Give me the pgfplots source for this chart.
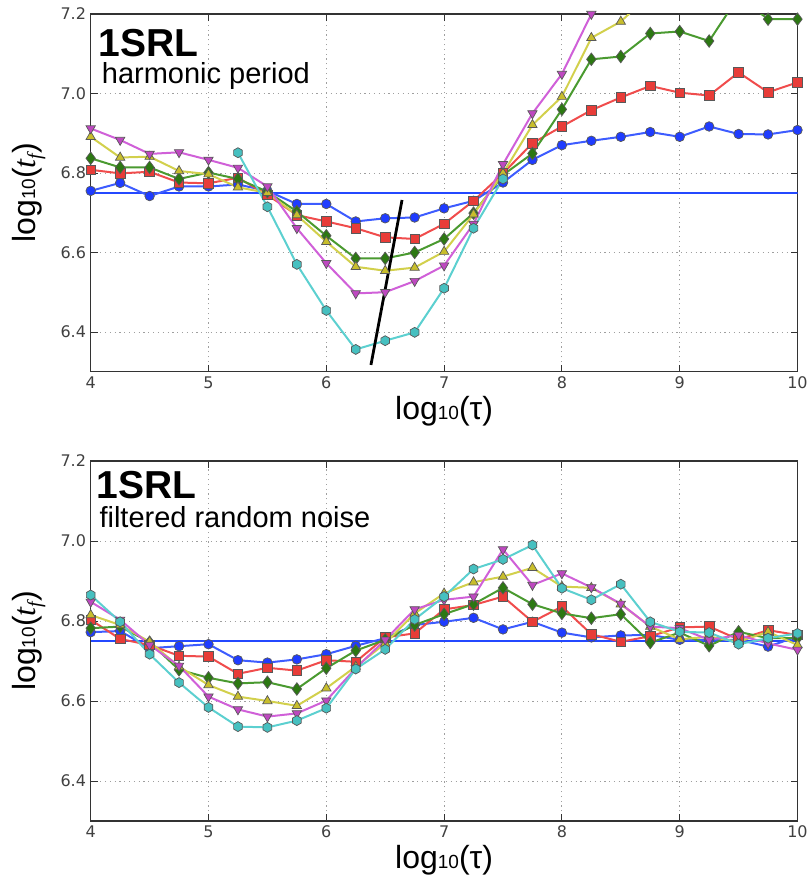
\documentclass[border=0pt]{standalone}
\usepackage{fontspec}
\setmainfont{Liberation Sans}
\newfontfamily\tickfont{DejaVu Sans}
\newfontfamily\serif{Liberation Serif}
\usepackage{pgfplots}
\pgfplotsset{compat=1.18}

% line colours (lighter) and marker fills
\definecolor{lblue}{HTML}{3D5CFF}
\definecolor{mblue}{HTML}{1F3CFF}
\definecolor{lred}{HTML}{F04C4C}
\definecolor{mred}{HTML}{E83C38}
\definecolor{lgreen}{HTML}{4A9A30}
\definecolor{mgreen}{HTML}{2C7812}
\definecolor{lyellow}{HTML}{D2D04C}
\definecolor{myellow}{HTML}{C8BE2C}
\definecolor{lmag}{HTML}{D060D8}
\definecolor{mmag}{HTML}{BE48C0}
\definecolor{lcyan}{HTML}{5CD0D0}
\definecolor{mcyan}{HTML}{46C0C0}
\definecolor{hline}{HTML}{2448FF}

\pgfdeclareplotmark{hex*}{%
  \pgfpathmoveto{\pgfqpointpolar{90}{\pgfplotmarksize}}%
  \pgfpathlineto{\pgfqpointpolar{150}{\pgfplotmarksize}}%
  \pgfpathlineto{\pgfqpointpolar{210}{\pgfplotmarksize}}%
  \pgfpathlineto{\pgfqpointpolar{270}{\pgfplotmarksize}}%
  \pgfpathlineto{\pgfqpointpolar{330}{\pgfplotmarksize}}%
  \pgfpathlineto{\pgfqpointpolar{30}{\pgfplotmarksize}}%
  \pgfpathclose
  \pgfusepathqfillstroke}

\newcommand\mylogten{log{\fontsize{19}{19}\selectfont 10}}

\pgfplotsset{
  panel/.style={
    scale only axis, width=706.8pt,
    xmin=4, xmax=10, ymin=6.3, ymax=7.2,
    xtick={4,5,...,10}, ytick={6.4,6.6,6.8,7.0,7.2},
    y tick label style={/pgf/number format/fixed, /pgf/number format/fixed zerofill, /pgf/number format/precision=1},
    /pgf/number format/assume math mode=true,
    grid=major,
    grid style={line width=0.9pt, gray!75, dash pattern=on 1.2pt off 3.6pt},
    tick align=inside, major tick length=7pt,
    axis line style={line width=1.5pt, black!80},
    tick style={line width=0.9pt, black!80},
    every tick label/.append style={font=\tickfont\fontsize{16}{18}\selectfont, text=black!75},
    x tick label style={inner sep=0pt, anchor=north, yshift=-4.5pt},
    y tick label style={inner sep=0pt, anchor=east, xshift=-4.5pt},
    xlabel={\fontsize{32}{36}\selectfont\mylogten(τ)},
    ylabel={\fontsize{32}{36}\selectfont\mylogten({\serif\itshape t}\raisebox{-6pt}{\fontsize{20}{20}\selectfont\serif\itshape f})},
    xlabel style={at={(axis description cs:0.5,-0.067)}, anchor=north, inner sep=0pt},
    ylabel style={at={(axis description cs:-0.064,0.5)}, anchor=south, inner sep=0pt},
  },
  sb/.style={color=lblue, line width=2pt, mark=*, mark size=4.8pt, mark options={fill=mblue, draw=black!65, line width=0.7pt}},
  sr/.style={color=lred, line width=2pt, mark=square*, mark size=4.8pt, mark options={fill=mred, draw=black!65, line width=0.7pt}},
  sg/.style={color=lgreen, line width=2pt, mark=diamond*, mark size=6.3pt, mark options={fill=mgreen, draw=black!65, line width=0.7pt}},
  sy/.style={color=lyellow, line width=2pt, mark=triangle*, mark size=5.4pt, mark options={fill=myellow, draw=black!65, line width=0.7pt}},
  sm/.style={color=lmag, line width=2pt, mark=triangle*, mark size=5.4pt, mark options={fill=mmag, draw=black!65, line width=0.7pt, rotate=180}},
  sc/.style={color=lcyan, line width=2pt, mark=hex*, mark size=5pt, mark options={fill=mcyan, draw=black!65, line width=0.7pt}},
}

\begin{document}
\begin{tikzpicture}
\path[use as bounding box] (0pt,0pt) rectangle (808pt,879pt);

% ---------- top panel: harmonic period ----------
\begin{axis}[panel, height=357.7pt, at={(90.7pt,507.3pt)}, anchor=south west]
\addplot[color=hline, line width=1.3pt] coordinates {(4,6.75) (10,6.75)};
\addplot[sb] coordinates {
 (4,6.755) (4.25,6.775) (4.5,6.742) (4.75,6.766) (5,6.766) (5.25,6.771) (5.5,6.755)
 (5.75,6.722) (6,6.722) (6.25,6.678) (6.5,6.686) (6.75,6.688) (7,6.711) (7.25,6.730)
 (7.5,6.776) (7.75,6.833) (8,6.870) (8.25,6.881) (8.5,6.891) (8.75,6.903) (9,6.891)
 (9.25,6.917) (9.5,6.898) (9.75,6.897) (10,6.908)};
\addplot[sr] coordinates {
 (4,6.808) (4.25,6.799) (4.5,6.803) (4.75,6.776) (5,6.774) (5.25,6.788) (5.5,6.745)
 (5.75,6.694) (6,6.678) (6.25,6.661) (6.5,6.638) (6.75,6.634) (7,6.672) (7.25,6.730)
 (7.5,6.799) (7.75,6.875) (8,6.917) (8.25,6.958) (8.5,6.990) (8.75,7.019) (9,7.002)
 (9.25,6.995) (9.5,7.053) (9.75,7.003) (10,7.028)};
\addplot[sg] coordinates {
 (4,6.837) (4.25,6.814) (4.5,6.814) (4.75,6.785) (5,6.801) (5.25,6.785) (5.5,6.753)
 (5.75,6.703) (6,6.642) (6.25,6.585) (6.5,6.585) (6.75,6.600) (7,6.634) (7.25,6.699)
 (7.5,6.795) (7.75,6.849) (8,6.960) (8.25,7.086) (8.5,7.093) (8.75,7.151) (9,7.156)
 (9.25,7.132) (9.5,7.244) (9.75,7.187) (10,7.187)};
\addplot[sy] coordinates {
 (4,6.891) (4.25,6.839) (4.5,6.841) (4.75,6.805) (5,6.797) (5.25,6.764) (5.5,6.750)
 (5.75,6.694) (6,6.627) (6.25,6.564) (6.5,6.554) (6.75,6.562) (7,6.602) (7.25,6.696)
 (7.5,6.799) (7.75,6.921) (8,6.992) (8.25,7.140) (8.5,7.181) (8.75,7.25)};
\addplot[sm] coordinates {
 (4,6.912) (4.25,6.883) (4.5,6.848) (4.75,6.852) (5,6.833) (5.25,6.813) (5.5,6.766)
 (5.75,6.661) (6,6.573) (6.25,6.497) (6.5,6.500) (6.75,6.528) (7,6.567) (7.25,6.672)
 (7.5,6.822) (7.75,6.950) (8,7.049) (8.25,7.200) (8.5,7.30)};
\addplot[sc] coordinates {
 (5.25,6.851) (5.5,6.715) (5.75,6.570) (6,6.454) (6.25,6.356) (6.5,6.378) (6.75,6.399)
 (7,6.510) (7.25,6.661) (7.5,6.785)};
\addplot[black, line width=2.8pt] coordinates {(6.379,6.317) (6.643,6.732)};
\node[anchor=base west, inner sep=0pt, font=\fontsize{39}{40}\selectfont\bfseries] at (rel axis cs:0.0108,0.881) {1SRL};
\node[anchor=base west, inner sep=0pt, font=\fontsize{29}{30}\selectfont] at (rel axis cs:0.0156,0.806) {harmonic period};
\end{axis}

% ---------- bottom panel: filtered random noise ----------
\begin{axis}[panel, height=360pt, at={(90.7pt,58pt)}, anchor=south west]
\addplot[color=hline, line width=1.3pt] coordinates {(4,6.75) (10,6.75)};
\addplot[sb] coordinates {
 (4,6.772) (4.25,6.775) (4.5,6.732) (4.75,6.737) (5,6.742) (5.25,6.702) (5.5,6.696)
 (5.75,6.704) (6,6.717) (6.25,6.738) (6.5,6.757) (6.75,6.790) (7,6.798) (7.25,6.808)
 (7.5,6.779) (7.75,6.798) (8,6.771) (8.25,6.759) (8.5,6.764) (8.75,6.765) (9,6.753)
 (9.25,6.753) (9.5,6.753) (9.75,6.736) (10,6.761)};
\addplot[sr] coordinates {
 (4,6.803) (4.25,6.755) (4.5,6.740) (4.75,6.713) (5,6.711) (5.25,6.668) (5.5,6.683)
 (5.75,6.676) (6,6.702) (6.25,6.698) (6.5,6.759) (6.75,6.769) (7,6.829) (7.25,6.840)
 (7.5,6.861) (7.75,6.798) (8,6.836) (8.25,6.767) (8.5,6.748) (8.75,6.762) (9,6.784)
 (9.25,6.786) (9.5,6.754) (9.75,6.777) (10,6.765)};
\addplot[sg] coordinates {
 (4,6.782) (4.25,6.786) (4.5,6.747) (4.75,6.678) (5,6.658) (5.25,6.644) (5.5,6.647)
 (5.75,6.630) (6,6.682) (6.25,6.726) (6.5,6.753) (6.75,6.790) (7,6.817) (7.25,6.842)
 (7.5,6.883) (7.75,6.842) (8,6.819) (8.25,6.807) (8.5,6.817) (8.75,6.746) (9,6.771)
 (9.25,6.738) (9.5,6.773) (9.75,6.757) (10,6.757)};
\addplot[sy] coordinates {
 (4,6.815) (4.25,6.790) (4.5,6.748) (4.75,6.686) (5,6.640) (5.25,6.611) (5.5,6.600)
 (5.75,6.588) (6,6.632) (6.25,6.686) (6.5,6.744) (6.75,6.819) (7,6.869) (7.25,6.897)
 (7.5,6.911) (7.75,6.933) (8,6.886) (8.25,6.883) (8.5,6.842) (8.75,6.786) (9,6.754)
 (9.25,6.761) (9.5,6.748) (9.75,6.773) (10,6.740)};
\addplot[sm] coordinates {
 (4,6.848) (4.25,6.803) (4.5,6.740) (4.75,6.688) (5,6.611) (5.25,6.579) (5.5,6.561)
 (5.75,6.569) (6,6.601) (6.25,6.682) (6.5,6.753) (6.75,6.829) (7,6.853) (7.25,6.861)
 (7.5,6.979) (7.75,6.890) (8,6.919) (8.25,6.884) (8.5,6.843) (8.75,6.786) (9,6.782)
 (9.25,6.753) (9.5,6.765) (9.75,6.744) (10,6.728)};
\addplot[sc] coordinates {
 (4,6.865) (4.25,6.798) (4.5,6.717) (4.75,6.646) (5,6.584) (5.25,6.536) (5.5,6.534)
 (5.75,6.551) (6,6.582) (6.25,6.680) (6.5,6.729) (6.75,6.804) (7,6.861) (7.25,6.930)
 (7.5,6.954) (7.75,6.990) (8,6.882) (8.25,6.853) (8.5,6.892) (8.75,6.798) (9,6.773)
 (9.25,6.771) (9.5,6.742) (9.75,6.757) (10,6.769)};
\node[anchor=base west, inner sep=0pt, font=\fontsize{39}{40}\selectfont\bfseries] at (rel axis cs:0.0085,0.896) {1SRL};
\node[anchor=base west, inner sep=0pt, font=\fontsize{29}{30}\selectfont] at (rel axis cs:0.0122,0.816) {filtered random noise};
\end{axis}
\end{tikzpicture}
\end{document}
